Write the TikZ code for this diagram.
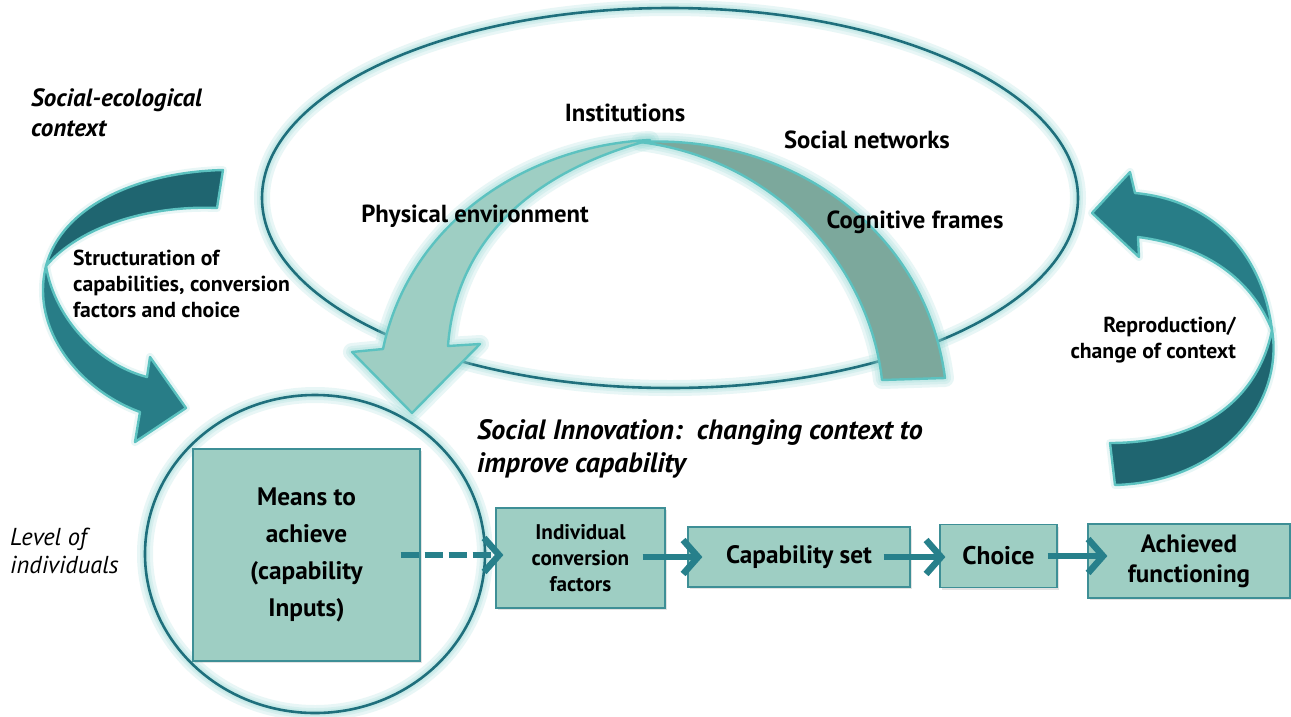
\documentclass[tikz,border=0pt]{standalone}
\usepackage{fontspec}
\setmainfont{PT Sans}
\usetikzlibrary{arrows.meta,calc,shadows}
\definecolor{boxfill}{HTML}{9ECEC3}
\definecolor{boxline}{HTML}{3E8F96}
\definecolor{connc}{HTML}{27808B}
\definecolor{ellc}{HTML}{1F6F7C}
\definecolor{haloc}{HTML}{8FD6D2}
\definecolor{arrline}{HTML}{5CC2C0}
\definecolor{lightfill}{HTML}{9ECEC3}
\definecolor{darkfill}{HTML}{7CA89C}
\definecolor{tealdark}{HTML}{1F6570}
\definecolor{tealmid}{HTML}{287D87}
\begin{document}
\begin{tikzpicture}[x=1pt,y=-1pt,
  halo/.style={draw=haloc,line width=#1,opacity=0.2,line join=round},
  ellline/.style={draw=ellc,line width=2.6pt},
  bigarrow/.style={draw=arrline,line width=2.4pt,line join=round},
  box/.style={draw=boxline,fill=boxfill,line width=1.2pt,inner sep=0pt,align=center,
    drop shadow={opacity=0.22,shadow xshift=2pt,shadow yshift=-2pt}},
  conn/.style={draw=connc,line width=6.5pt,-{Straight Barb[length=15pt,width=34pt]}},
  lbl/.style={inner sep=0pt,font=\bfseries\fontsize{24.7}{28}\selectfont},
  lblsm/.style={inner sep=0pt,font=\bfseries\fontsize{21.7}{26}\selectfont}]
\useasboundingbox (0,0) rectangle (1291,716);
\fill[white] (0,0) rectangle (1291,716);

% context ellipse
\foreach \w in {16,10,6}{\draw[halo=\w pt] (670,198) ellipse [x radius=408pt,y radius=190pt];}
\draw[ellline] (670,198) ellipse [x radius=408pt,y radius=190pt];
% individual ellipse
\foreach \w in {16,10,6}{\draw[halo=\w pt] (315,554) ellipse [x radius=170pt,y radius=159pt];}
\draw[ellline] (315,554) ellipse [x radius=170pt,y radius=159pt];

% left curved arrow (structuration)
\def\leftback{(223,170) .. controls (140,172) and (62,205) .. (46,266)
  .. controls (80,226) and (150,205) .. (217,208) -- cycle}
\def\leftfront{(46,266) .. controls (30,330) and (80,390) .. (140,412) -- (135,442) -- (186,408)
  -- (150,357) -- (147,377) .. controls (100,365) and (55,320) .. (46,266) -- cycle}
\draw[halo=8pt] \leftback;
\draw[halo=8pt] \leftfront;
\filldraw[bigarrow,fill=tealdark] \leftback;
\filldraw[bigarrow,fill=tealmid] \leftfront;

% right curved arrow (reproduction)
\def\rightfront{(1272,330) .. controls (1262,250) and (1210,200) .. (1135,193) -- (1130,172)
  -- (1092,213) -- (1139,257) -- (1138,237) .. controls (1200,245) and (1250,275) .. (1272,330) -- cycle}
\def\rightback{(1272,330) .. controls (1284,400) and (1225,482) .. (1115,485) -- (1110,443)
  .. controls (1200,443) and (1258,400) .. (1272,330) -- cycle}
\draw[halo=8pt] \rightfront;
\draw[halo=8pt] \rightback;
\filldraw[bigarrow,fill=tealmid] \rightfront;
\filldraw[bigarrow,fill=tealdark] \rightback;

% central arrows
\def\darkarc{(640,142) .. controls (785,134) and (925,225) .. (945,378) -- (882,380)
  .. controls (870,270) and (780,160) .. (640,142) -- cycle}
\def\lightarc{(650,140) .. controls (530,145) and (410,220) .. (383,349) -- (352,352) -- (412,413)
  -- (480,344) -- (448,346) .. controls (455,250) and (520,175) .. (650,140) -- cycle}
\foreach \w in {18,12,7}{\draw[halo=\w pt] \darkarc; \draw[halo=\w pt] \lightarc;}
\filldraw[bigarrow,fill=darkfill] \darkarc;
\filldraw[bigarrow,fill=lightfill] \lightarc;

% boxes
\node[box,minimum width=227pt,minimum height=212pt,font=\bfseries\fontsize{25.3}{37}\selectfont]
  (means) at (306.5,555) {Means to\\achieve\\(capability\\Inputs)};
\node[box,minimum width=169pt,minimum height=100pt,font=\bfseries\fontsize{21.2}{26}\selectfont]
  (icf) at (580.5,558) {Individual\\conversion\\factors};
\node[box,minimum width=222pt,minimum height=60pt,font=\bfseries\fontsize{25.2}{28}\selectfont]
  (cap) at (799,557) {Capability set};
\node[box,minimum width=117pt,minimum height=63pt,font=\bfseries\fontsize{25.5}{28}\selectfont]
  (choice) at (998.5,556) {Choice};
\node[box,minimum width=202pt,minimum height=74pt,font=\bfseries\fontsize{25}{30}\selectfont]
  (af) at (1189,561) {Achieved\\functioning};

% connectors
\draw[conn,dash pattern=on 18pt off 6pt] ([xshift=-20pt]means.east) -- ([xshift=8pt]icf.west |- means.east);
\draw[conn] ([xshift=-23pt]icf.east |- cap.west) -- ([xshift=15pt]cap.west);
\draw[conn] ([xshift=-27pt]cap.east) -- ([xshift=6pt]choice.west |- cap.east);
\draw[conn] ([xshift=-10pt]choice.east) -- ([xshift=20pt]af.west |- choice.east);

% labels
\node[inner sep=0pt,anchor=west,align=left,font=\bfseries\itshape\fontsize{25}{30}\selectfont]
  (sec) at (31,113) {Social-ecological\\context};
\node[lblsm,anchor=west,align=left] (struct) at (73,284) {Structuration of\\capabilities, conversion\\factors and choice};
\node[lbl] (inst) at (625,113) {Institutions};
\node[lbl] (socnet) at (867,140) {Social networks};
\node[lbl] (phys) at (475,216) {Physical environment};
\node[lbl] (cogn) at (915,222) {Cognitive frames};
\node[lblsm,anchor=east,align=right] (repro) at (1236,340) {Reproduction/\\change of context};
\node[inner sep=0pt,anchor=west,align=left,font=\bfseries\itshape\fontsize{28}{33}\selectfont]
  (soi) at (477,449) {Social Innovation:\ \ changing context to\\improve capability};
\node[inner sep=0pt,anchor=west,align=left,font=\itshape\fontsize{24.5}{28}\selectfont]
  (lev) at (10,551) {Level of\\individuals};
\end{tikzpicture}
\end{document}
